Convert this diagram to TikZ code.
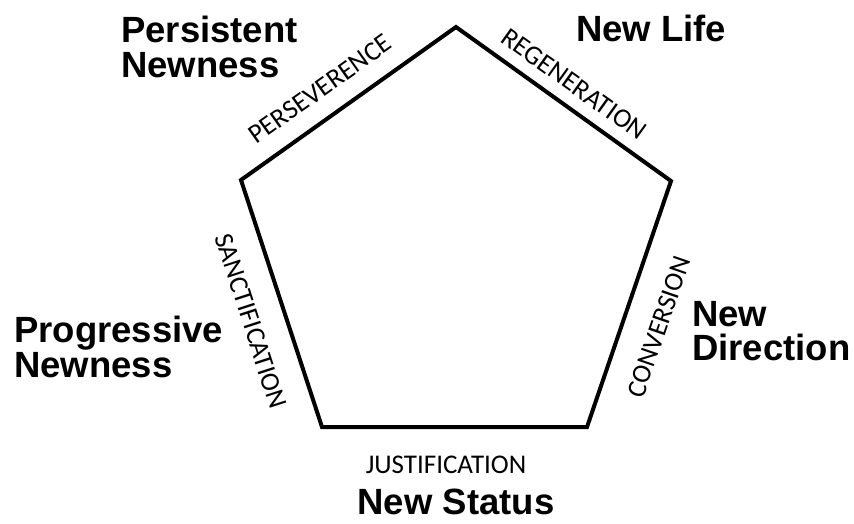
\documentclass[tikz,border=0pt]{standalone}
\usepackage{fontspec}
\setmainfont{Liberation Sans}
\newfontfamily\sidefont{Carlito}
\begin{document}
\begin{tikzpicture}[x=1pt,y=-1pt,
  edge/.style={line width=4pt,line join=miter},
  sidelabel/.style={font=\sidefont\fontsize{27}{32}\selectfont,inner sep=0pt,anchor=center},
  biglabel/.style={font=\bfseries\fontsize{36.5}{34.5}\selectfont,inner sep=0pt,align=left}]
\useasboundingbox (0,0) rectangle (854,523);
\coordinate (T) at (456,27);
\coordinate (R) at (671,181);
\coordinate (BR) at (587,427);
\coordinate (BL) at (322,427);
\coordinate (L) at (241,180);
\draw[edge] (T) -- (R) -- (BR) -- (BL) -- (L) -- cycle;
\node[sidelabel,rotate=35.4] (pers) at (320,89) {PERSEVERENCE};
\node[sidelabel,rotate=-35.6] (rege) at (574,84) {REGENERATION};
\node[sidelabel,rotate=71] (conv) at (659,327) {CONVERSION};
\node[sidelabel,rotate=-72] (sanc) at (251,321) {SANCTIFICATION};
\node[sidelabel] (just) at (446,465) {JUSTIFICATION};
\node[biglabel,anchor=north west] (pn) at (121,16) {Persistent\\Newness};
\node[biglabel,anchor=base west] (nl) at (576,41) {New Life};
\node[biglabel,anchor=north west] (prn) at (14,316) {Progressive\\Newness};
\node[biglabel,anchor=north west] (nd) at (692,301) {New\\Direction};
\node[biglabel,anchor=base] (ns) at (456,514) {New Status};
\end{tikzpicture}
\end{document}
